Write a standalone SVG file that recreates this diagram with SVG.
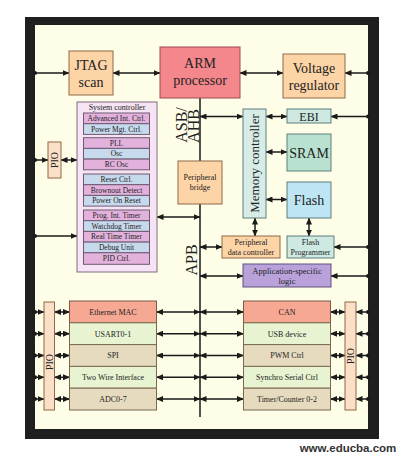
<svg xmlns="http://www.w3.org/2000/svg" width="406" height="459" viewBox="0 0 406 459">
<defs>
<marker id="ah" markerUnits="userSpaceOnUse" markerWidth="7" markerHeight="6" refX="6.5" refY="3" orient="auto-start-reverse" viewBox="0 0 7 6"><path d="M0,0 L7,3 L0,6 z" fill="#1a1a1a"/></marker>
<style>
.t{font-family:"Liberation Serif","DejaVu Serif",serif;fill:#222;text-anchor:middle}
.s14{font-size:14px}.s8{font-size:8px}.s7{font-size:7.5px}
.c{stroke:#1a1a1a;stroke-width:1.5;fill:none}
.d{marker-start:url(#ah);marker-end:url(#ah)}
.e{marker-end:url(#ah)}
.b{marker-start:url(#ah)}
.or{fill:#fdd4a6;stroke:#8d6a48;stroke-width:1}
.pio{fill:#fbdfc6;stroke:#8d6a48;stroke-width:1}
.pk{fill:#e2b2dd;stroke:#6f5a72;stroke-width:1}
.bl{fill:#c7d9ec;stroke:#6f5a72;stroke-width:1}
.sal{fill:#f6a893;stroke:#7a5a4a;stroke-width:1}
.gr{fill:#e7f3d1;stroke:#7a6a50;stroke-width:1}
.tan{fill:#e6dbbf;stroke:#7a6a50;stroke-width:1}
.dot{fill:#1a1a1a}
</style>
</defs>
<rect x="25" y="17" width="354" height="422" fill="#1f1f1f"/>
<rect x="35" y="25" width="333" height="404" fill="#fefde7"/>

<g id="connectors">
<line class="c" x1="200" y1="98" x2="200" y2="417"/>
<line class="c e" x1="35" y1="73" x2="69" y2="73"/><circle class="dot" cx="35" cy="73" r="2"/>
<line class="c d" x1="113" y1="73" x2="160" y2="73"/>
<line class="c d" x1="240" y1="73" x2="283" y2="73"/>
<line class="c b" x1="345" y1="73" x2="368" y2="73"/><circle class="dot" cx="368" cy="73" r="2"/>
<line class="c e" x1="35" y1="160" x2="48" y2="160"/><circle class="dot" cx="35" cy="160" r="2"/>
<line class="c d" x1="61" y1="160" x2="77" y2="160"/>
<line class="c e" x1="35" y1="236" x2="77" y2="236"/><circle class="dot" cx="35" cy="236" r="2"/>
<line class="c d" x1="157" y1="217" x2="200" y2="217"/>
<line class="c d" x1="200" y1="116.5" x2="243" y2="116.5"/>
<line class="c d" x1="266" y1="116.5" x2="287" y2="116.5"/>
<line class="c b" x1="331" y1="116.5" x2="368" y2="116.5"/><circle class="dot" cx="368" cy="116.5" r="2"/>
<line class="c d" x1="266" y1="152" x2="287" y2="152"/>
<line class="c d" x1="266" y1="199.5" x2="287" y2="199.5"/>
<line class="c d" x1="255" y1="218" x2="255" y2="236"/>
<line class="c d" x1="309" y1="218" x2="309" y2="236"/>
<line class="c d" x1="200" y1="247" x2="222" y2="247"/>
<line class="c b" x1="334" y1="247" x2="368" y2="247"/><circle class="dot" cx="368" cy="247" r="2"/>
<line class="c d" x1="200" y1="276" x2="243" y2="276"/>
<line class="c b" x1="331" y1="276" x2="368" y2="276"/><circle class="dot" cx="368" cy="276" r="2"/>
<g id="row-arrows">
<line class="c e" x1="35" y1="312" x2="44" y2="312"/><circle class="dot" cx="35" cy="312" r="2"/>
<line class="c d" x1="54.5" y1="312" x2="69.5" y2="312"/>
<line class="c d" x1="156.5" y1="312" x2="200" y2="312"/>
<line class="c d" x1="200" y1="312" x2="243.5" y2="312"/>
<line class="c d" x1="330.5" y1="312" x2="345" y2="312"/>
<line class="c b" x1="356" y1="312" x2="368" y2="312"/><circle class="dot" cx="368" cy="312" r="2"/>
<line class="c e" x1="35" y1="333.7" x2="44" y2="333.7"/><circle class="dot" cx="35" cy="333.7" r="2"/>
<line class="c d" x1="54.5" y1="333.7" x2="69.5" y2="333.7"/>
<line class="c d" x1="156.5" y1="333.7" x2="200" y2="333.7"/>
<line class="c d" x1="200" y1="333.7" x2="243.5" y2="333.7"/>
<line class="c d" x1="330.5" y1="333.7" x2="345" y2="333.7"/>
<line class="c b" x1="356" y1="333.7" x2="368" y2="333.7"/><circle class="dot" cx="368" cy="333.7" r="2"/>
<line class="c e" x1="35" y1="355.5" x2="44" y2="355.5"/><circle class="dot" cx="35" cy="355.5" r="2"/>
<line class="c d" x1="54.5" y1="355.5" x2="69.5" y2="355.5"/>
<line class="c d" x1="156.5" y1="355.5" x2="200" y2="355.5"/>
<line class="c d" x1="200" y1="355.5" x2="243.5" y2="355.5"/>
<line class="c d" x1="330.5" y1="355.5" x2="345" y2="355.5"/>
<line class="c b" x1="356" y1="355.5" x2="368" y2="355.5"/><circle class="dot" cx="368" cy="355.5" r="2"/>
<line class="c e" x1="35" y1="377.3" x2="44" y2="377.3"/><circle class="dot" cx="35" cy="377.3" r="2"/>
<line class="c d" x1="54.5" y1="377.3" x2="69.5" y2="377.3"/>
<line class="c d" x1="156.5" y1="377.3" x2="200" y2="377.3"/>
<line class="c d" x1="200" y1="377.3" x2="243.5" y2="377.3"/>
<line class="c d" x1="330.5" y1="377.3" x2="345" y2="377.3"/>
<line class="c b" x1="356" y1="377.3" x2="368" y2="377.3"/><circle class="dot" cx="368" cy="377.3" r="2"/>
<line class="c e" x1="35" y1="399" x2="44" y2="399"/><circle class="dot" cx="35" cy="399" r="2"/>
<line class="c d" x1="54.5" y1="399" x2="69.5" y2="399"/>
<line class="c d" x1="156.5" y1="399" x2="200" y2="399"/>
<line class="c d" x1="200" y1="399" x2="243.5" y2="399"/>
<line class="c d" x1="330.5" y1="399" x2="345" y2="399"/>
<line class="c b" x1="356" y1="399" x2="368" y2="399"/><circle class="dot" cx="368" cy="399" r="2"/>
</g>
</g>

<g id="jtag"><rect class="or" x="69" y="51" width="44" height="44"/><text class="t s14" x="91" y="70">JTAG</text><text class="t s14" x="91" y="87">scan</text></g>
<g id="arm"><rect x="160" y="47" width="80" height="51" fill="#f4878b" stroke="#9a4a4e"/><text class="t s14" x="200" y="68">ARM</text><text class="t s14" x="200" y="85">processor</text></g>
<g id="voltage"><rect class="or" x="283" y="54" width="62" height="44"/><text class="t s14" x="314" y="73">Voltage</text><text class="t s14" x="314" y="90">regulator</text></g>

<g id="pio-top"><rect class="pio" x="48" y="142" width="13" height="36"/><text class="t" font-size="10" transform="translate(58,160) rotate(-90)">PIO</text></g>

<g id="system-controller">
<rect x="77" y="102" width="80" height="170" fill="#f6e3f3" stroke="#7f6e80"/>
<text class="t s8" x="117" y="109.5">System controller</text>
<rect class="pk" x="83.5" y="113" width="66" height="10.7"/><text class="t s7" x="116.5" y="121">Advanced Int. Ctrl.</text>
<rect class="bl" x="83.5" y="123.7" width="66" height="10.7"/><text class="t s7" x="116.5" y="131.7">Power Mgt. Ctrl.</text>
<rect class="pk" x="83.5" y="137.7" width="66" height="10.7"/><text class="t s7" x="116.5" y="145.7">PLL</text>
<rect class="bl" x="83.5" y="148.4" width="66" height="10.7"/><text class="t s7" x="116.5" y="156.4">Osc</text>
<rect class="pk" x="83.5" y="159.1" width="66" height="10.7"/><text class="t s7" x="116.5" y="167.1">RC Osc</text>
<rect class="bl" x="83.5" y="174" width="66" height="10.7"/><text class="t s7" x="116.5" y="182">Reset Ctrl.</text>
<rect class="pk" x="83.5" y="184.7" width="66" height="10.7"/><text class="t s7" x="116.5" y="192.7">Brownout Detect</text>
<rect class="bl" x="83.5" y="195.4" width="66" height="10.7"/><text class="t s7" x="116.5" y="203.4">Power On Reset</text>
<rect class="pk" x="83.5" y="210" width="66" height="10.7"/><text class="t s7" x="116.5" y="218">Prog. Int. Timer</text>
<rect class="bl" x="83.5" y="220.7" width="66" height="10.7"/><text class="t s7" x="116.5" y="228.7">Watchdog Timer</text>
<rect class="pk" x="83.5" y="231.4" width="66" height="10.7"/><text class="t s7" x="116.5" y="239.4">Real Time Timer</text>
<rect class="bl" x="83.5" y="242.1" width="66" height="10.7"/><text class="t s7" x="116.5" y="250.1">Debug Unit</text>
<rect class="pk" x="83.5" y="252.8" width="66" height="11.5"/><text class="t s7" x="116.5" y="261.2">PID Ctrl.</text>
</g>

<g id="bus-labels">
<text class="t" font-size="16" transform="translate(187,125) rotate(-90)">ASB/</text>
<text class="t" font-size="16" transform="translate(198.5,126) rotate(-90)">AHB</text>
<text class="t" font-size="16" transform="translate(197,260) rotate(-90)">APB</text>
</g>

<g id="peripheral-bridge"><rect class="or" x="178" y="161" width="44" height="43"/><text class="t s8" x="200" y="180">Peripheral</text><text class="t s8" x="200" y="190">bridge</text></g>
<g id="memory-controller"><rect x="243" y="109" width="23" height="109" fill="#d7ece7" stroke="#5f7f7c"/><text class="t" font-size="13" transform="translate(259,163.5) rotate(-90)">Memory controller</text></g>
<g id="ebi"><rect x="287" y="109" width="44" height="14" fill="#cde9e1" stroke="#5f7f7c"/><text class="t" font-size="12" x="309" y="120.5">EBI</text></g>
<g id="sram"><rect x="287" y="134" width="44" height="37" fill="#b8e2cf" stroke="#5f7f7c"/><text class="t s14" x="309" y="157.5">SRAM</text></g>
<g id="flash"><rect x="287" y="182" width="44" height="36" fill="#bde5f3" stroke="#5f7f7c"/><text class="t s14" x="309" y="205">Flash</text></g>
<g id="pdc"><rect class="or" x="222" y="236" width="58" height="22"/><text class="t s8" x="251" y="245">Peripheral</text><text class="t s8" x="251" y="254.5">data controller</text></g>
<g id="flash-programmer"><rect x="287" y="236" width="47" height="22" fill="#cde9e1" stroke="#5f7f7c"/><text class="t s8" x="310.5" y="245">Flash</text><text class="t s8" x="310.5" y="254.5">Programmer</text></g>
<g id="app-logic"><rect x="243" y="264" width="88" height="23" fill="#b9a2da" stroke="#5f5280"/><text class="t" font-size="8.5" x="287" y="273.5">Application-specific</text><text class="t" font-size="8.5" x="287" y="283.5">logic</text></g>

<g id="pio-left"><rect class="pio" x="44" y="302" width="10.5" height="108"/><text class="t" font-size="10" transform="translate(52.8,362) rotate(-90)">PIO</text></g>
<g id="left-peripherals">
<rect class="sal" x="69.5" y="301" width="87" height="21.8"/><text class="t s8" x="113" y="314.8">Ethernet MAC</text>
<rect class="gr" x="69.5" y="322.8" width="87" height="21.8"/><text class="t s8" x="113" y="336.6">USART0-1</text>
<rect class="tan" x="69.5" y="344.6" width="87" height="21.8"/><text class="t s8" x="113" y="358.4">SPI</text>
<rect class="gr" x="69.5" y="366.4" width="87" height="21.8"/><text class="t s8" x="113" y="380.2">Two Wire Interface</text>
<rect class="tan" x="69.5" y="388.2" width="87" height="21.8"/><text class="t s8" x="113" y="402">ADC0-7</text>
</g>
<g id="right-peripherals">
<rect class="sal" x="243.5" y="301" width="87" height="21.8"/><text class="t s8" x="287" y="314.8">CAN</text>
<rect class="gr" x="243.5" y="322.8" width="87" height="21.8"/><text class="t s8" x="287" y="336.6">USB device</text>
<rect class="tan" x="243.5" y="344.6" width="87" height="21.8"/><text class="t s8" x="287" y="358.4">PWM Ctrl</text>
<rect class="gr" x="243.5" y="366.4" width="87" height="21.8"/><text class="t s8" x="287" y="380.2">Synchro Serial Ctrl</text>
<rect class="tan" x="243.5" y="388.2" width="87" height="21.8"/><text class="t s8" x="287" y="402">Timer/Counter 0-2</text>
</g>
<g id="pio-right"><rect class="pio" x="345" y="302" width="11" height="108"/><text class="t" font-size="10" transform="translate(354,356) rotate(-90)">PIO</text></g>

<text x="348" y="452" font-family="'Liberation Sans',Arial,sans-serif" font-weight="bold" font-size="11.5" fill="#333" text-anchor="middle">www.educba.com</text>
</svg>
